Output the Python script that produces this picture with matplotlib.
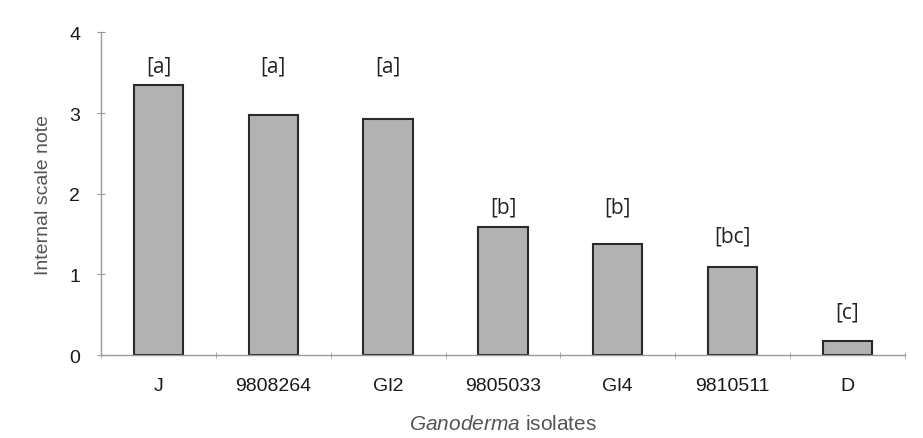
import matplotlib
matplotlib.use('Agg')
import matplotlib.pyplot as plt
import numpy as np

#=====================================================

isolates = ['J', '9808264', 'Gl2', '9805033', 'Gl4', '9810511', 'D']
scale_note = [3.35, 2.97, 2.93, 1.59, 1.375, 1.09, 0.17]
groups = ['[a]', '[a]', '[a]', '[b]', '[b]', '[bc]', '[c]']
group_y = [3.58, 3.58, 3.58, 1.83, 1.83, 1.47, 0.53]

#=====================================================

def main():

    plt.rcParams['font.family'] = ['Liberation Sans', 'DejaVu Sans']
    plt.rcParams['mathtext.fontset'] = 'custom'
    plt.rcParams['mathtext.it'] = 'Liberation Sans:italic'
    plt.rcParams['mathtext.rm'] = 'Liberation Sans'

    fig = plt.figure(figsize=(9.23, 4.39), dpi=100)
    ax = fig.add_axes([0.1094, 0.189, 0.871, 0.735])

    x = np.arange(len(isolates))
    ax.bar(x, scale_note, width=0.43, color='#b2b2b2', edgecolor='#2a2a2a', linewidth=1.5)

    # significance letters
    for xi, lab, yi in zip(x, groups, group_y):
        ax.text(xi, yi, lab, ha='center', va='center', fontsize=15,
                family=['Open Sans', 'DejaVu Sans'], color='#222222')

    ax.set_xlim(-0.5, len(isolates) - 0.5)
    ax.set_ylim(0, 4)
    ax.set_yticks([0, 1, 2, 3, 4])

    ax.set_xticks(x)
    ax.set_xticklabels(isolates)
    ax.set_xticks(np.arange(-0.5, len(isolates)), minor=True)

    for side in ['top', 'right']:
        ax.spines[side].set_visible(False)
    for side in ['left', 'bottom']:
        ax.spines[side].set_color('#9a9a9a')
        ax.spines[side].set_linewidth(1.0)

    ax.tick_params(axis='x', which='major', length=0, pad=16, labelsize=14, labelcolor='#1a1a1a')
    ax.tick_params(axis='x', which='minor', direction='inout', length=5, color='#9a9a9a')
    ax.tick_params(axis='y', direction='inout', length=6, color='#9a9a9a', pad=12,
                   labelsize=14, labelcolor='#1a1a1a')

    ax.set_ylabel('Internal scale note', fontsize=14, color='#555555', labelpad=12)
    ax.set_xlabel(r'$\it{Ganoderma}$ isolates', fontsize=15, color='#555555', labelpad=14)

    fig.savefig('out.png', dpi=100)

#=====================================================

if __name__ == '__main__':
    main()
